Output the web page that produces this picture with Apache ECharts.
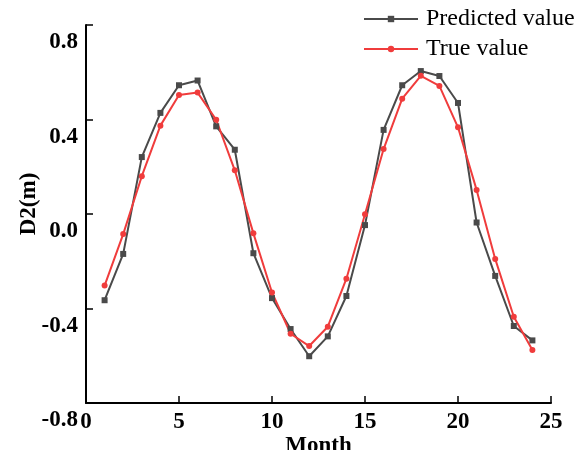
<!DOCTYPE html>
<html>
<head>
<meta charset="utf-8">
<script src="https://cdn.jsdelivr.net/npm/echarts@6/dist/echarts.min.js"></script>
<style>
html,body{margin:0;padding:0;background:#fff;}
#c{width:582px;height:450px;}
</style>
</head>
<body>
<div id="c"></div>
<script>
var months = [1,2,3,4,5,6,7,8,9,10,11,12,13,14,15,16,17,18,19,20,21,22,23,24];
var predicted = [-0.365,-0.169,0.241,0.428,0.545,0.565,0.371,0.272,-0.166,-0.356,-0.487,-0.602,-0.518,-0.347,-0.047,0.356,0.545,0.605,0.584,0.470,-0.036,-0.262,-0.474,-0.535];
var trueVals = [-0.303,-0.085,0.160,0.374,0.504,0.514,0.399,0.185,-0.082,-0.332,-0.507,-0.559,-0.477,-0.274,-0.001,0.275,0.488,0.585,0.542,0.367,0.102,-0.190,-0.435,-0.576];
var xTicks = [0,5,10,15,20,25];
var yTicks = [-0.8,-0.4,0.0,0.4,0.8];

function pairs(xs, ys){ return xs.map(function(x,i){ return [x, ys[i]]; }); }

var FONT = 'Liberation Serif, Times New Roman, serif';
var chart = echarts.init(document.getElementById('c'));
chart.setOption({
  animation:false,
  backgroundColor:'#fff',
  textStyle:{fontFamily:FONT},
  legend:{
    orient:'vertical',
    left:363, top:7, padding:0,
    itemWidth:54, itemHeight:8, itemGap:6,
    textStyle:{fontFamily:FONT, fontSize:24, color:'#000', padding:[0,0,0,3]},
    data:['Predicted value','True value']
  },
  grid:{left:86,right:31,top:25,bottom:47,outerBoundsMode:'none'},
  xAxis:{
    type:'value', min:xTicks[0], max:xTicks[xTicks.length-1], interval:5,
    name:'Month', nameLocation:'middle', nameGap:32, nameMoveOverlap:false,
    nameTextStyle:{fontFamily:FONT,fontSize:23,fontWeight:'bold',color:'#000',verticalAlign:'top'},
    axisLine:{show:true,onZero:false,lineStyle:{color:'#000',width:2}},
    axisTick:{show:true,inside:true,length:7,lineStyle:{color:'#000',width:1.5}},
    axisLabel:{fontFamily:FONT,fontSize:23,fontWeight:'bold',color:'#000',margin:8},
    splitLine:{show:false}
  },
  yAxis:{
    type:'value', min:yTicks[0], max:yTicks[yTicks.length-1], interval:0.4,
    name:'D2(m)', nameLocation:'middle', nameGap:45, nameRotate:90, nameMoveOverlap:false,
    nameTextStyle:{fontFamily:FONT,fontSize:23,fontWeight:'bold',color:'#000',padding:[0,0,0,20]},
    axisLine:{show:true,onZero:false,lineStyle:{color:'#000',width:2}},
    axisTick:{show:true,inside:true,length:7,lineStyle:{color:'#000',width:1.5}},
    axisLabel:{fontFamily:FONT,fontSize:23,fontWeight:'bold',color:'#000',margin:8,verticalAlign:'top',padding:[6,0,0,0],
      formatter:function(v){return v.toFixed(1);}},
    splitLine:{show:false}
  },
  series:[
    {name:'Predicted value',type:'line',data:pairs(months,predicted),
     symbol:'rect',symbolSize:6,
     lineStyle:{color:'#4a4a4a',width:2},itemStyle:{color:'#4a4a4a'}},
    {name:'True value',type:'line',data:pairs(months,trueVals),
     symbol:'circle',symbolSize:6,
     lineStyle:{color:'#f03c3c',width:2},itemStyle:{color:'#f03c3c'}}
  ]
});
</script>
</body>
</html>
